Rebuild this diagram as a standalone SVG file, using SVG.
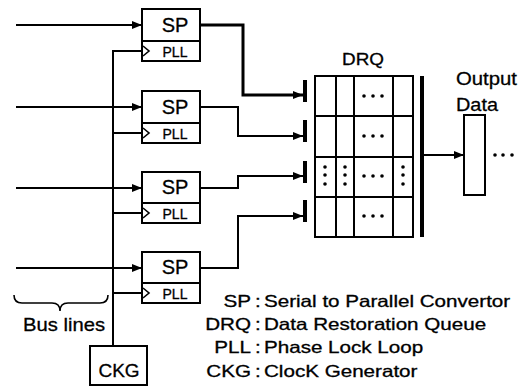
<svg xmlns="http://www.w3.org/2000/svg" width="525" height="387" viewBox="0 0 525 387">
<defs>
<marker id="ah" markerUnits="userSpaceOnUse" markerWidth="11" markerHeight="9" refX="10" refY="4" orient="auto"><path d="M0,0 L10,4 L0,8 z" fill="#000"/></marker>
<style>
.bx{fill:#fff;stroke:#000;stroke-width:2}
.ln{fill:none;stroke:#000;stroke-width:2}
.t{font-family:"Liberation Sans",Arial,sans-serif;fill:#000;stroke:#000;stroke-width:0.3}
.bar{fill:#000}
.dot{fill:#000}
</style>
</defs>
<rect width="525" height="387" fill="#fff"/>

<g id="connectors">
<line class="ln" x1="16" y1="25" x2="142" y2="25" marker-end="url(#ah)"/>
<line class="ln" x1="16" y1="107" x2="142" y2="107" marker-end="url(#ah)"/>
<line class="ln" x1="16" y1="188" x2="142" y2="188" marker-end="url(#ah)"/>
<line class="ln" x1="16" y1="268" x2="142" y2="268" marker-end="url(#ah)"/>
<polyline class="ln" points="142,51 113,51 113,346"/>
<line class="ln" x1="113" y1="133" x2="142" y2="133"/>
<line class="ln" x1="113" y1="213" x2="142" y2="213"/>
<line class="ln" x1="113" y1="293" x2="142" y2="293"/>
<polyline class="ln" style="stroke-width:3" points="200,25 243,25 243,95 303,95" marker-end="url(#ah)"/>
<polyline class="ln" points="200,107 238,107 238,136 303,136" marker-end="url(#ah)"/>
<polyline class="ln" points="200,188 238,188 238,176 303,176" marker-end="url(#ah)"/>
<polyline class="ln" points="200,268 238,268 238,216 303,216" marker-end="url(#ah)"/>
<rect class="bar" x="303" y="80" width="4" height="22"/>
<rect class="bar" x="303" y="120" width="4" height="22"/>
<rect class="bar" x="303" y="161" width="4" height="22"/>
<rect class="bar" x="303" y="200" width="4" height="22"/>
<rect class="bar" x="420" y="76" width="4" height="161"/>
<line class="ln" x1="424" y1="155" x2="464" y2="155" marker-end="url(#ah)"/>
</g>

<g id="sp1">
<rect class="bx" x="142" y="9" width="58" height="52"/>
<line class="ln" x1="142" y1="41" x2="200" y2="41"/>
<polyline class="ln" style="stroke-width:1.6" points="143,46 149,51 143,56"/>
<text class="t" x="175" y="32" font-size="20" text-anchor="middle">SP</text>
<text class="t" x="175" y="57" font-size="14" text-anchor="middle">PLL</text>
</g>
<g id="sp2">
<rect class="bx" x="142" y="91" width="58" height="52"/>
<line class="ln" x1="142" y1="123" x2="200" y2="123"/>
<polyline class="ln" style="stroke-width:1.6" points="143,128 149,133 143,138"/>
<text class="t" x="175" y="114" font-size="20" text-anchor="middle">SP</text>
<text class="t" x="175" y="139" font-size="14" text-anchor="middle">PLL</text>
</g>
<g id="sp3">
<rect class="bx" x="142" y="172" width="58" height="51"/>
<line class="ln" x1="142" y1="203" x2="200" y2="203"/>
<polyline class="ln" style="stroke-width:1.6" points="143,208 149,213 143,218"/>
<text class="t" x="175" y="194" font-size="20" text-anchor="middle">SP</text>
<text class="t" x="175" y="219" font-size="14" text-anchor="middle">PLL</text>
</g>
<g id="sp4">
<rect class="bx" x="142" y="252" width="58" height="51"/>
<line class="ln" x1="142" y1="283" x2="200" y2="283"/>
<polyline class="ln" style="stroke-width:1.6" points="143,288 149,293 143,298"/>
<text class="t" x="175" y="274" font-size="20" text-anchor="middle">SP</text>
<text class="t" x="175" y="299" font-size="14" text-anchor="middle">PLL</text>
</g>

<g id="ckg">
<rect class="bx" x="90" y="346" width="57" height="39"/>
<text class="t" x="119" y="377" font-size="19" text-anchor="middle">CKG</text>
</g>

<g id="buslines">
<path class="ln" style="stroke-width:1.6" d="M14,295 Q14,303 22,303 L52,303 Q60,303 60,311 Q60,303 68,303 L100,303 Q108,303 108,295"/>
<text class="t" x="23" y="331" font-size="19" textLength="82" lengthAdjust="spacingAndGlyphs">Bus lines</text>
</g>

<g id="drq">
<text class="t" x="363" y="65" font-size="17" text-anchor="middle" textLength="42" lengthAdjust="spacingAndGlyphs">DRQ</text>
<rect class="bx" x="315" y="76" width="98" height="161"/>
<line class="ln" x1="315" y1="116" x2="413" y2="116"/>
<line class="ln" x1="315" y1="157" x2="413" y2="157"/>
<line class="ln" x1="315" y1="197" x2="413" y2="197"/>
<line class="ln" x1="336" y1="76" x2="336" y2="237"/>
<line class="ln" x1="354" y1="76" x2="354" y2="237"/>
<line class="ln" x1="393" y1="76" x2="393" y2="237"/>
<g class="dot">
<circle cx="364" cy="96" r="1.8"/><circle cx="373" cy="96" r="1.8"/><circle cx="382" cy="96" r="1.8"/>
<circle cx="364" cy="136" r="1.8"/><circle cx="373" cy="136" r="1.8"/><circle cx="382" cy="136" r="1.8"/>
<circle cx="364" cy="176" r="1.8"/><circle cx="373" cy="176" r="1.8"/><circle cx="382" cy="176" r="1.8"/>
<circle cx="364" cy="216" r="1.8"/><circle cx="373" cy="216" r="1.8"/><circle cx="382" cy="216" r="1.8"/>
<circle cx="325" cy="167" r="1.8"/><circle cx="325" cy="175" r="1.8"/><circle cx="325" cy="184" r="1.8"/>
<circle cx="345" cy="167" r="1.8"/><circle cx="345" cy="175" r="1.8"/><circle cx="345" cy="184" r="1.8"/>
<circle cx="403" cy="167" r="1.8"/><circle cx="403" cy="175" r="1.8"/><circle cx="403" cy="184" r="1.8"/>
</g>
</g>

<g id="output">
<text class="t" x="456" y="85" font-size="19" textLength="61" lengthAdjust="spacingAndGlyphs">Output</text>
<text class="t" x="456" y="111" font-size="19" textLength="42" lengthAdjust="spacingAndGlyphs">Data</text>
<rect class="bx" x="464" y="115" width="21" height="80"/>
<g class="dot"><circle cx="495" cy="155" r="1.8"/><circle cx="503" cy="155" r="1.8"/><circle cx="512" cy="155" r="1.8"/></g>
</g>

<g id="legend" class="t" font-size="16.5" transform="scale(1.25,1)">
<text x="200.8" y="307" text-anchor="end">SP</text>
<text x="204" y="307">:</text>
<text x="211.2" y="307">Serial to Parallel Convertor</text>
<text x="200.8" y="330" text-anchor="end">DRQ</text>
<text x="204" y="330">:</text>
<text x="211.2" y="330">Data Restoration Queue</text>
<text x="200.8" y="353" text-anchor="end">PLL</text>
<text x="204" y="353">:</text>
<text x="211.2" y="353">Phase Lock Loop</text>
<text x="200.8" y="377" text-anchor="end">CKG</text>
<text x="204" y="377">:</text>
<text x="211.2" y="377">ClocK Generator</text>
</g>
</svg>
